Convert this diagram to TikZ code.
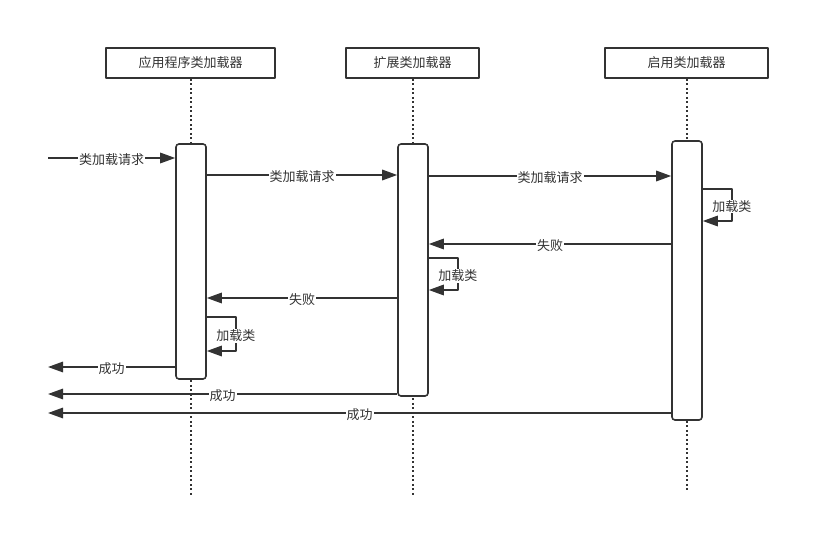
\documentclass[tikz,border=0pt]{standalone}
\usepackage{fontspec}
\newfontfamily\cjk{Noto Sans CJK SC}
\usetikzlibrary{arrows.meta}
\definecolor{ink}{HTML}{333333}
\begin{document}
\begin{tikzpicture}[line join=round,x=1pt,y=-1pt,
		hdr/.style={draw=ink,line width=1.6pt,minimum width=#1,minimum height=30pt,inner sep=0pt,text=ink,font=\cjk\fontsize{13}{15}\selectfont},
		actbar/.style={draw=ink,fill=white,line width=1.6pt,rounded corners=3pt,minimum width=30pt,minimum height=#1,inner sep=0pt},
		life/.style={ink,line width=2pt,dash pattern=on 2pt off 2.5pt},
		msg/.style={ink,line width=1.6pt,-{Triangle[length=15pt,width=10.5pt]}},
		lbl/.style={fill=white,inner sep=1pt,yshift=-1.5pt,text=ink,font=\cjk\fontsize{13}{15}\selectfont}]
				\useasboundingbox (0,0) rectangle (830,559);
				\node[hdr=169] (app) at (190.5,63) {应用程序类加载器};
				\node[hdr=133] (ext) at (412.5,63) {扩展类加载器};
				\node[hdr=163] (boot) at (686.5,63) {启用类加载器};
				\draw[life] (app.south) -- (app.south |- 0,495);
				\draw[life] (ext.south) -- (ext.south |- 0,495);
				\draw[life] (boot.south) -- (boot.south |- 0,490);
				\node[actbar=235] (appbar) at (191,261.5) {};
				\node[actbar=252] (extbar) at (413,270) {};
				\node[actbar=279] (bootbar) at (687,280.5) {};
				\coordinate (req) at (48,158);
				\coordinate (ok1) at (48,367);
				\coordinate (ok2) at (48,394);
				\coordinate (ok3) at (48,413);
				\draw[msg] (req) -- node[lbl] {类加载请求} (appbar.west |- req);
				\draw[msg] (appbar.east |- 0,175) -- node[lbl] {类加载请求} (extbar.west |- 0,175);
				\draw[msg] (extbar.east |- 0,176) -- node[lbl] {类加载请求} (bootbar.west |- 0,176);
				\draw[msg] (bootbar.east |- 0,189) -- ++(29,0) -- node[lbl] {加载类} ++(0,32) -- (bootbar.east |- 0,221);
				\draw[msg] (bootbar.west |- 0,244) -- node[lbl] {失败} (extbar.east |- 0,244);
				\draw[msg] (extbar.east |- 0,258) -- ++(29,0) -- node[lbl] {加载类} ++(0,32) -- (extbar.east |- 0,290);
				\draw[msg] (extbar.west |- 0,298) -- node[lbl] {失败} (appbar.east |- 0,298);
				\draw[msg] (appbar.east |- 0,317) -- ++(29,0) -- node[lbl] {加载类} ++(0,34) -- (appbar.east |- 0,351);
				\draw[msg] (appbar.west |- ok1) -- node[lbl] {成功} (ok1);
				\draw[msg] (extbar.west |- ok2) -- node[lbl] {成功} (ok2);
				\draw[msg] (bootbar.west |- ok3) -- node[lbl] {成功} (ok3);
			\end{tikzpicture}
\end{document}
